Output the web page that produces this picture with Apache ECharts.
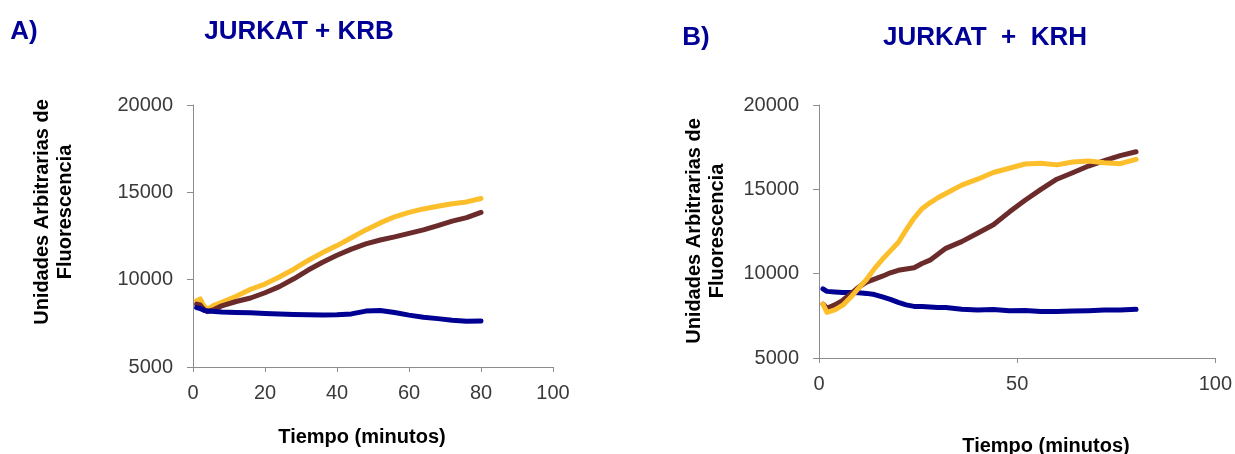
<!DOCTYPE html>
<html>
<head>
<meta charset="utf-8">
<title>JURKAT KRB / KRH</title>
<script src="https://cdn.jsdelivr.net/npm/echarts@6.0.0/dist/echarts.min.js"></script>
<style>
    html, body { margin: 0; padding: 0; background: #fff; }
    #chart { width: 1235px; height: 454px; }
</style>
</head>
<body>
<div id="chart"></div>
<script>
// tiempo (minutos) - panel A
var tiempoA = [1, 2, 3, 4, 6, 8, 12, 16, 20, 24, 28, 32, 36, 40, 44, 48, 52, 56, 60, 64, 68, 72, 76, 80];
var amarilloA = [8800, 8900, 8500, 8300, 8550, 8700, 9050, 9450, 9750, 10150, 10600, 11100, 11550, 11950, 12400, 12850, 13250, 13600, 13850, 14050, 14200, 14350, 14450, 14650];
var marronA = [8600, 8550, 8300, 8170, 8300, 8500, 8750, 8950, 9250, 9600, 10050, 10550, 11000, 11400, 11750, 12050, 12270, 12450, 12650, 12850, 13100, 13350, 13550, 13850];
var azulA = [8400, 8350, 8250, 8200, 8180, 8150, 8120, 8100, 8060, 8030, 8010, 7990, 7980, 7990, 8040, 8200, 8240, 8120, 7970, 7850, 7770, 7680, 7620, 7640];

// tiempo (minutos) - panel B
var tiempoB = [1, 2, 4, 6, 8, 10, 12, 14, 16, 18, 20, 22, 24, 26, 28, 30, 32, 36, 40, 44, 48, 52, 56, 60, 64, 68, 72, 76, 80];
var amarilloB = [8200, 7700, 7850, 8130, 8600, 9150, 9650, 10300, 10850, 11350, 11850, 12600, 13300, 13850, 14200, 14500, 14750, 15250, 15600, 16000, 16250, 16500, 16550, 16450, 16620, 16680, 16580, 16520, 16780];
var marronB = [8200, 7950, 8150, 8420, 8800, 9200, 9500, 9680, 9850, 10050, 10200, 10280, 10350, 10600, 10800, 11150, 11500, 11900, 12400, 12900, 13650, 14350, 15000, 15600, 15980, 16380, 16700, 17000, 17230];
var azulB = [9100, 8950, 8920, 8890, 8880, 8870, 8830, 8760, 8620, 8480, 8300, 8150, 8060, 8050, 8020, 8000, 7990, 7890, 7850, 7880, 7800, 7810, 7750, 7750, 7780, 7800, 7840, 7850, 7890];

var colores = { amarillo: '#FDBE2C', marron: '#6B2B2B', azul: '#000092' };
var tituloColor = '#000096';
var ejeColor = '#8C8C8C';
var fuente = '"Liberation Sans", Arial, sans-serif';

function pares(xs, ys){
    var out = [];
    for (var i = 0; i < xs.length; i++) {
        out.push([xs[i], ys[i]]);
    }
    return out;
}

function linea(nombre, idx, xs, ys, color){
    return {
        name: nombre,
        type: 'line',
        xAxisIndex: idx,
        yAxisIndex: idx,
        data: pares(xs, ys),
        showSymbol: false,
        symbol: 'none',
        lineStyle: { color: color, width: 5, cap: 'round', join: 'round' },
        itemStyle: { color: color },
        z: 3
    };
}

function ejeX(idx, intervalo){
    return {
        type: 'value', gridIndex: idx, min: 0, max: 100, interval: intervalo,
        axisLine: { show: true, lineStyle: { color: ejeColor, width: 1 } },
        axisTick: { show: true, length: 5, lineStyle: { color: ejeColor } },
        splitLine: { show: false },
        axisLabel: { color: '#3a3a3a', fontSize: 20, fontFamily: fuente, margin: 16 }
    };
}

function ejeY(idx){
    return {
        type: 'value', gridIndex: idx, min: 5000, max: 20000, interval: 5000,
        axisLine: { show: true, lineStyle: { color: ejeColor, width: 1 } },
        axisTick: { show: true, length: 6, lineStyle: { color: ejeColor } },
        splitLine: { show: false },
        axisLabel: {
            color: '#3a3a3a', fontSize: 20, fontFamily: fuente, margin: 20,
            formatter: function(v){ return String(v); }
        }
    };
}

function texto(str, x, y, size, color, rot){
    return {
        type: 'text',
        x: x, y: y,
        rotation: rot || 0,
        style: {
            text: str,
            font: 'bold ' + size + 'px ' + fuente,
            fill: color,
            textAlign: 'center', align: 'center',
            textVerticalAlign: 'middle', verticalAlign: 'middle',
            lineHeight: 23
        }
    };
}

var option = {
    backgroundColor: '#fff',
    animation: false,
    grid: [
        { left: 193, top: 105, width: 360, height: 262 },
        { left: 819, top: 105, width: 398, height: 253 }
    ],
    xAxis: [ejeX(0, 20), ejeX(1, 50)],
    yAxis: [ejeY(0), ejeY(1)],
    graphic: [
        texto('A)', 24, 32, 26, tituloColor),
        texto('JURKAT + KRB', 299, 32, 26, tituloColor),
        texto('B)', 696, 38, 26, tituloColor),
        texto('JURKAT  +  KRH', 985, 38, 26, tituloColor),
        texto('Unidades Arbitrarias de\nFluorescencia', 54, 212, 20, '#000', Math.PI / 2),
        texto('Unidades Arbitrarias de\nFluorescencia', 706, 231, 20, '#000', Math.PI / 2),
        texto('Tiempo (minutos)', 362, 437, 20, '#000'),
        texto('Tiempo (minutos)', 1046, 446, 20, '#000')
    ],
    series: [
        linea('Amarillo A', 0, tiempoA, amarilloA, colores.amarillo),
        linea('Marrón A', 0, tiempoA, marronA, colores.marron),
        linea('Azul A', 0, tiempoA, azulA, colores.azul),
        linea('Azul B', 1, tiempoB, azulB, colores.azul),
        linea('Marrón B', 1, tiempoB, marronB, colores.marron),
        linea('Amarillo B', 1, tiempoB, amarilloB, colores.amarillo)
    ]
};

var grafico = echarts.init(document.getElementById('chart'));
grafico.setOption(option);
</script>
</body>
</html>
